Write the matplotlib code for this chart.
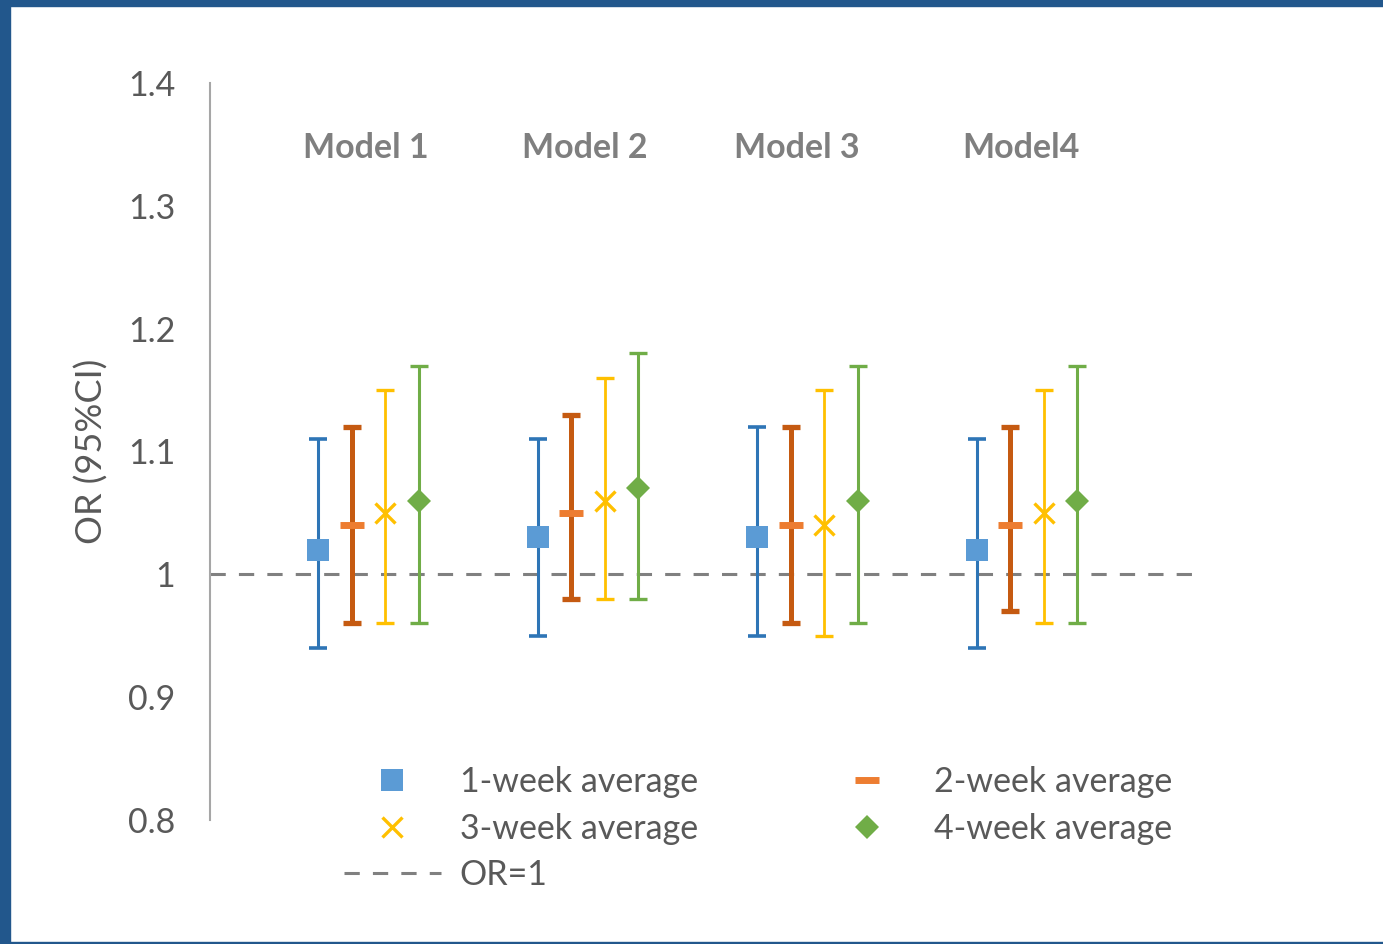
import matplotlib
matplotlib.use("Agg")
import matplotlib.pyplot as plt
from matplotlib.patches import Rectangle
from matplotlib.lines import Line2D
import numpy as np

plt.rcParams['font.family'] = ['Lato', 'DejaVu Sans']

models = ["Model 1", "Model 2", "Model 3", "Model4"]
series = ["1-week average", "2-week average", "3-week average", "4-week average"]

# odds ratios and 95% CI bounds, one row per series, one column per model
or_1wk = [1.02, 1.03, 1.03, 1.02]
lo_1wk = [0.94, 0.95, 0.95, 0.94]
hi_1wk = [1.11, 1.11, 1.12, 1.11]

or_2wk = [1.04, 1.05, 1.04, 1.04]
lo_2wk = [0.96, 0.98, 0.96, 0.97]
hi_2wk = [1.12, 1.13, 1.12, 1.12]

or_3wk = [1.05, 1.06, 1.04, 1.05]
lo_3wk = [0.96, 0.98, 0.95, 0.96]
hi_3wk = [1.15, 1.16, 1.15, 1.15]

or_4wk = [1.06, 1.07, 1.06, 1.06]
lo_4wk = [0.96, 0.98, 0.96, 0.96]
hi_4wk = [1.17, 1.18, 1.17, 1.17]

yticks = [0.8, 0.9, 1.0, 1.1, 1.2, 1.3, 1.4]
ytick_labels = ["0.8", "0.9", "1", "1.1", "1.2", "1.3", "1.4"]

# style per series: (bar colour, marker colour, marker, size, mew, bar lw, cap thickness)
styles = [
    ("#2E75B6", "#5B9BD5", "s", 16, 0, 2.2, 2.6),
    ("#C55A11", "#ED7D31", "_", 17, 5.0, 3.6, 3.8),
    ("#FFC000", "#FFC000", "x", 14, 2.4, 2.0, 2.4),
    ("#70AD47", "#70AD47", "D", 12, 0, 2.2, 2.4),
]
offsets = [-0.229, -0.076, 0.076, 0.229]
title_shift = [-0.014, -0.014, -0.048, -0.027]
fs = 24.5

fig = plt.figure(figsize=(13.83, 9.44), dpi=100)
ax = fig.add_axes([210 / 1383, 124 / 944, 990 / 1383, 737 / 944])

x = np.arange(len(models))
data = [(or_1wk, lo_1wk, hi_1wk), (or_2wk, lo_2wk, hi_2wk),
        (or_3wk, lo_3wk, hi_3wk), (or_4wk, lo_4wk, hi_4wk)]

ax.axhline(1.0, color="#808080", lw=2.2, dashes=(5, 4.3), zorder=1)

for (vals, lo, hi), st, off in zip(data, styles, offsets):
    vals = np.array(vals)
    yerr = [vals - np.array(lo), np.array(hi) - vals]
    bar_c, mk_c, mk, ms, mew, lw, ct = st
    ax.errorbar(x + off, vals, yerr=yerr, fmt="none", ecolor=bar_c,
                elinewidth=lw, capsize=6.5, capthick=ct, zorder=2)
    ax.plot(x + off, vals, linestyle="none", marker=mk, markersize=ms,
            color=mk_c, markeredgecolor=mk_c, markeredgewidth=mew, zorder=3)

for i, name in enumerate(models):
    ax.text(i + title_shift[i], 1.347, name, ha="center", va="center", fontsize=fs,
            fontweight="bold", color="#7F7F7F")

ax.set_xlim(-0.722, 3.788)
ax.set_ylim(0.8, 1.4)
ax.set_yticks(yticks)
ax.set_yticklabels(ytick_labels)
ax.tick_params(axis="y", length=0, pad=25, labelsize=fs, labelcolor="#595959")
ax.set_xticks([])
for side in ["top", "right", "bottom"]:
    ax.spines[side].set_visible(False)
ax.spines["left"].set_color("#A6A6A6")
ax.spines["left"].set_linewidth(1.5)
ax.set_ylabel("OR (95%CI)", fontsize=26, color="#595959", labelpad=14)

handles = [
    Line2D([], [], linestyle="none", marker="s", markersize=16, color="#5B9BD5", markeredgewidth=0),
    Line2D([], [], linestyle="none", marker="x", markersize=14, color="#FFC000", markeredgewidth=2.4),
    Line2D([], [], color="#808080", lw=2.2, dashes=(5, 4.3)),
    Line2D([], [], linestyle="none", marker="_", markersize=17, color="#ED7D31", markeredgewidth=5),
    Line2D([], [], linestyle="none", marker="D", markersize=12, color="#70AD47", markeredgewidth=0),
]
labels = [series[0], series[2], "OR=1", series[1], series[3]]
leg = ax.legend(handles, labels, ncol=2, loc="upper left",
                bbox_to_anchor=(344 / 1383, (944 - 766) / 944),
                bbox_transform=fig.transFigure, frameon=False,
                fontsize=fs, handlelength=2.85, handletextpad=0.55,
                columnspacing=3.55, labelspacing=0.43, borderpad=0, borderaxespad=0)
for t in leg.get_texts():
    t.set_color("#595959")

# dark blue frame along top, left and bottom edges
frame = "#22578C"
fig.patches.append(Rectangle((0, 1 - 6 / 944), 1, 6 / 944, transform=fig.transFigure, color=frame))
fig.patches.append(Rectangle((0, 0), 10 / 1383, 1, transform=fig.transFigure, color=frame))
fig.patches.append(Rectangle((0, 0), 1, 2.5 / 944, transform=fig.transFigure, color=frame))

fig.savefig("out.png", dpi=100)
